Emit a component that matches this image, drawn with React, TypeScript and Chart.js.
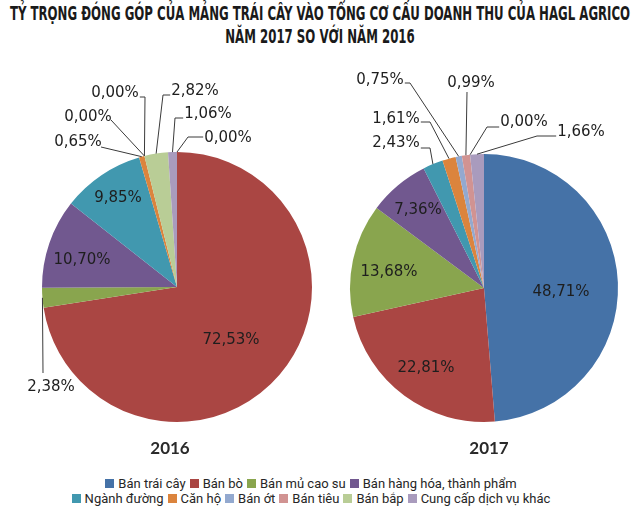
import React, { useEffect, useLayoutEffect, useRef } from "react";
import { Chart, registerables } from "chart.js";

Chart.register(...registerables);

// ---------- data ----------
const titleLines = [
  "TỶ TRỌNG ĐÓNG GÓP CỦA MẢNG TRÁI CÂY VÀO TỔNG CƠ CẤU DOANH THU CỦA HAGL AGRICO",
  "NĂM 2017 SO VỚI NĂM 2016",
];
const categories = [
  "Bán trái cây",
  "Bán bò",
  "Bán mủ cao su",
  "Bán hàng hóa, thành phẩm",
  "Ngành đường",
  "Căn hộ",
  "Bán ớt",
  "Bán tiêu",
  "Bán bắp",
  "Cung cấp dịch vụ khác",
];
const years = ["2016", "2017"];
const values2016 = [0.0, 72.53, 2.38, 10.7, 9.85, 0.65, 0.0, 0.0, 2.82, 1.06];
const values2017 = [48.71, 22.81, 13.68, 7.36, 2.43, 1.61, 0.75, 0.99, 0.0, 1.66];

// ---------- styles / layout ----------
const colors = [
  "#4572A7",
  "#AA4643",
  "#89A54E",
  "#71588F",
  "#4198AF",
  "#DB843D",
  "#93A9CF",
  "#D19392",
  "#B9CD96",
  "#A99BBD",
];

type LabelSpec = { inside?: boolean; t: [number, number]; e?: [number, number]; tail?: boolean };

// label offsets relative to pie centre
const labelLayout2016: LabelSpec[] = [
  { t: [51, -149], e: [11, -150], tail: true },
  { inside: true, t: [54, 53] },
  { t: [-126, 100], e: [-134, 86] },
  { inside: true, t: [-95, -27] },
  { inside: true, t: [-59, -89] },
  { t: [-99, -145], e: [-76, -140] },
  { t: [-89, -170], e: [-66, -167] },
  { t: [-62, -194], e: [-32, -190], tail: true },
  { t: [18, -196], e: [-14, -192], tail: true },
  { t: [31, -173], e: [-2, -169], tail: true },
];
const labelLayout2017: LabelSpec[] = [
  { inside: true, t: [77, 4] },
  { inside: true, t: [-58, 80] },
  { inside: true, t: [-95, -16] },
  { inside: true, t: [-66, -78] },
  { t: [-88, -145], e: [-54, -140], tail: true },
  { t: [-88, -169], e: [-54, -166], tail: true },
  { t: [-104, -208], e: [-74, -205], tail: true },
  { t: [-13, -205], e: [-17, -196] },
  { t: [40, -166], e: [3, -161], tail: true },
  { t: [97, -156], e: [53, -152], tail: true },
];

const fmt = (v: number) => v.toFixed(2).replace(".", ",") + "%";

function makeLabelPlugin(layout: LabelSpec[]) {
  return {
    id: "pieLabels",
    afterDatasetsDraw(chart: any) {
      const ctx: CanvasRenderingContext2D = chart.ctx;
      const meta = chart.getDatasetMeta(0);
      const data = chart.data.datasets[0].data as number[];
      ctx.save();
      ctx.font = '15px "DejaVu Sans", Verdana, sans-serif';
      ctx.textAlign = "center";
      ctx.textBaseline = "middle";
      meta.data.forEach((el: any, i: number) => {
        const spec = layout[i];
        if (!spec) return;
        const p = el.getProps(["x", "y", "startAngle", "endAngle", "outerRadius"], true);
        const cx = p.x;
        const cy = p.y;
        const text = fmt(data[i]);
        const tx = cx + spec.t[0];
        const ty = cy + spec.t[1];
        if (!spec.inside && spec.e) {
          const mid = (p.startAngle + p.endAngle) / 2;
          const ax = cx + Math.cos(mid) * p.outerRadius;
          const ay = cy + Math.sin(mid) * p.outerRadius;
          const ex = cx + spec.e[0];
          const ey = cy + spec.e[1];
          ctx.strokeStyle = "#3a3a3a";
          ctx.lineWidth = 1;
          ctx.beginPath();
          ctx.moveTo(ax, ay);
          ctx.lineTo(ex, ey);
          if (spec.tail) {
            const w = ctx.measureText(text).width;
            const sx = tx > ex ? tx - w / 2 - 1 : tx + w / 2 + 1;
            ctx.lineTo(sx, ey);
          }
          ctx.stroke();
        }
        ctx.fillStyle = "#1e1e1e";
        ctx.fillText(text, tx, ty);
      });
      ctx.restore();
    },
  };
}

function PieChart(props: {
  values: number[];
  layout: LabelSpec[];
  left: number;
  padding: { left: number; right: number; top: number; bottom: number };
}) {
  const ref = useRef<HTMLCanvasElement>(null);
  useEffect(() => {
    const chart = new Chart(ref.current!, {
      type: "pie",
      data: {
        labels: categories,
        datasets: [
          {
            data: props.values,
            backgroundColor: colors,
            borderWidth: 0,
          },
        ],
      },
      options: {
        responsive: false,
        animation: false,
        layout: { padding: props.padding },
        plugins: {
          legend: { display: false },
          tooltip: { enabled: false },
          title: { display: false },
        },
      },
      plugins: [makeLabelPlugin(props.layout)],
    } as any);
    return () => chart.destroy();
  }, []);
  return (
    <canvas
      ref={ref}
      width={320}
      height={470}
      style={{ position: "absolute", left: props.left, top: 0, width: 320, height: 470 }}
    />
  );
}

function Title() {
  const ref = useRef<HTMLDivElement>(null);
  useLayoutEffect(() => {
    const div = ref.current!;
    const spans = Array.from(div.querySelectorAll("span")) as HTMLSpanElement[];
    const w = spans[0].offsetWidth;
    const s = 620 / w;
    spans.forEach((sp) => {
      sp.style.transform = `translateX(-50%) scaleX(${s})`;
    });
  }, []);
  return (
    <div
      ref={ref}
      style={{
        position: "absolute",
        left: 0,
        top: 0,
        width: 640,
        height: 50,
        font: 'bold 19px "Liberation Sans Narrow", "DejaVu Sans Condensed", "Roboto", sans-serif',
        color: "#1a1a1a",
      }}
    >
      {titleLines.map((l, i) => (
        <span
          key={i}
          style={{
            position: "absolute",
            left: 320,
            top: 3 + i * 23,
            display: "inline-block",
            whiteSpace: "nowrap",
            transformOrigin: "center",
            lineHeight: "20px",
          }}
        >
          {l}
        </span>
      ))}
    </div>
  );
}

function Legend() {
  const rows = [categories.slice(0, 4).map((c, i) => i), categories.slice(4).map((c, i) => i + 4)];
  return (
    <div style={{ position: "absolute", left: 0, top: 476, width: 626 }}>
      {rows.map((row, r) => (
        <div
          key={r}
          style={{
            display: "flex",
            justifyContent: "center",
            height: 15,
            alignItems: "center",
            font: '13px Roboto, sans-serif',
            color: "#262626",
          }}
        >
          {row.map((i) => (
            <span key={i} style={{ display: "inline-flex", alignItems: "center", marginRight: 4 }}>
              <span
                style={{ width: 9, height: 9, background: colors[i], display: "inline-block", marginRight: 4 }}
              />
              {categories[i]}
            </span>
          ))}
        </div>
      ))}
    </div>
  );
}

export default function App() {
  return (
    <div
      style={{
        position: "fixed",
        left: 0,
        top: 0,
        width: 640,
        height: 512,
        background: "#ffffff",
        overflow: "hidden",
      }}
    >
      <Title />
      <PieChart
        values={values2016}
        layout={labelLayout2016}
        left={0}
        padding={{ left: 42, right: 8, top: 152, bottom: 48 }}
      />
      <PieChart
        values={values2017}
        layout={labelLayout2017}
        left={320}
        padding={{ left: 30, right: 22, top: 154, bottom: 48 }}
      />
      {years.map((y, i) => (
        <div
          key={y}
          style={{
            position: "absolute",
            top: 437,
            left: i === 0 ? 120 : 439,
            width: 100,
            textAlign: "center",
            font: 'bold 17px Lato, sans-serif',
            color: "#2a2a2a",
          }}
        >
          {y}
        </div>
      ))}
      <Legend />
    </div>
  );
}
